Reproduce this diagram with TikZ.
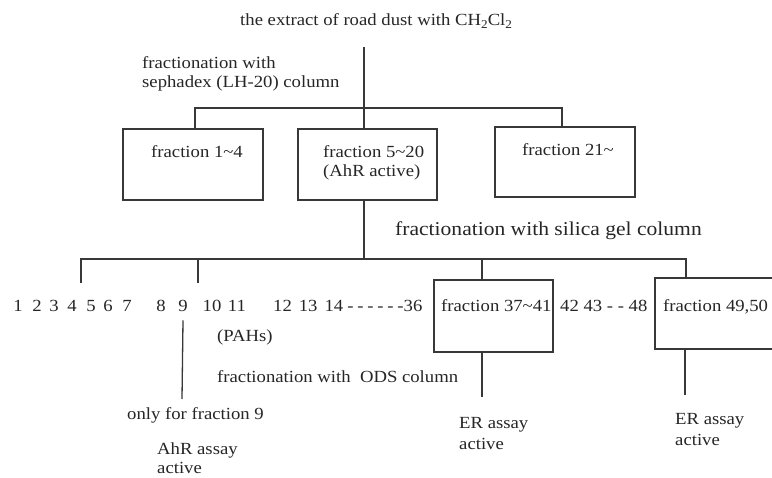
\documentclass[tikz,border=0pt]{standalone}
\usepackage{fontspec}
\setmainfont[FakeStretch=1.1]{Liberation Serif}
\begin{document}
\begin{tikzpicture}[x=1pt,y=-1pt,
  ink/.style={draw=black!78, line width=1.3pt},
  boxn/.style={draw=black!78, line width=1.3pt, rectangle, inner sep=0pt},
  txt/.style={anchor=base west, inner sep=0pt, text=black!85, font=\fontsize{17}{20}\selectfont},
  bigtxt/.style={txt, font=\fontsize{19.6}{24}\selectfont},
  num/.style={anchor=base, inner sep=0pt, text=black!85, font=\fontsize{17}{20}\selectfont}]
\useasboundingbox (0,0) rectangle (772,478);
\fill[white] (0,0) rectangle (772,478);

% title
\node[txt] (src) at (240,26) {the extract of road dust with CH\raisebox{-3pt}{\fontsize{12}{12}\selectfont 2}Cl\raisebox{-3pt}{\fontsize{12}{12}\selectfont 2}};
\node[txt] (sep1) at (142,69) {fractionation with};
\node[txt] (sep2) at (142,88) {sephadex (LH-20) column};

% first-level boxes
\node[boxn, minimum width=140pt, minimum height=71pt] (b1) at (193,164.5) {};
\node[boxn, minimum width=139pt, minimum height=71pt] (b2) at (367.5,164.5) {};
\node[boxn, minimum width=140pt, minimum height=70pt] (b3) at (565,162) {};
\node[txt] (t1) at (151,158) {fraction 1\textasciitilde 4};
\node[txt] (t2a) at (323,158) {fraction 5\textasciitilde 20};
\node[txt] (t2b) at (323,177) {(AhR active)};
\node[txt] (t3) at (522,156) {fraction 21\textasciitilde};

% silica gel
\node[bigtxt] (sil) at (395,236) {fractionation with silica gel column};

% second-level boxes
\node[boxn, minimum width=119pt, minimum height=72pt] (b4) at (493.5,316) {};
\node[boxn, minimum width=124pt, minimum height=71pt] (b5) at (717,313.5) {};
\node[txt] (t4) at (441,312) {fraction 37\textasciitilde 41};
\node[txt] (t5) at (663,312) {fraction 49,50};

% number row
\foreach \n/\x in {1/18,2/37,3/54,4/72,5/91,6/108,7/127,8/161,9/183,10/212,11/237}
  \node[num] (n\n) at (\x,312) {\n};
\node[txt] (n12) at (273,312) {12\hspace{7pt}13\hspace{7pt}14\hspace{4pt}-\hspace{3.8pt}-\hspace{3.8pt}-\hspace{3.8pt}-\hspace{3.8pt}-\hspace{3.8pt}-36};
\node[txt] (n42) at (560,312) {42 43 - - 48};

% ODS branch
\node[txt] (pah) at (217,342) {(PAHs)};
\node[txt] (ods) at (217,383) {fractionation with\ \ ODS column};
\node[txt] (only) at (127,420) {only for fraction 9};
\node[txt] (ahr1) at (157,455) {AhR assay};
\node[txt] (ahr2) at (157,474) {active};

% ER results
\node[txt] (er1a) at (459,429) {ER assay};
\node[txt] (er1b) at (459,450) {active};
\node[txt] (er2a) at (675,425) {ER assay};
\node[txt] (er2b) at (675,446) {active};

% junction coordinates
\coordinate (top) at (364,47);
\coordinate (h1L) at (195,108);
\coordinate (h1R) at (562,108);
\coordinate (h2L) at (81,259);
\coordinate (h2a) at (198,259);
\coordinate (h2b) at (482,259);
\coordinate (h2R) at (686,259);
\coordinate (d1) at (81,283);
\coordinate (d2) at (198,283);
\coordinate (e1) at (482,397);
\coordinate (e2) at (685,395);
\coordinate (f9) at (182,399);

% connectors
\draw[ink] (top) -- (top |- b2.north);
\draw[ink] (h1L |- b1.north) -- (h1L) -- (h1R) -- (h1R |- b3.north);
\draw[ink] (top |- b2.south) -- (top |- h2L);
\draw[ink] (d1) -- (h2L) -- (h2R) -- (h2R |- b5.north);
\draw[ink] (h2a) -- (d2);
\draw[ink] (h2b) -- (h2b |- b4.north);
\draw[ink] (e1 |- b4.south) -- (e1);
\draw[ink] (e2 |- b5.south) -- (e2);
\draw[ink] ([yshift=-8pt]n9.south) -- (f9);
\end{tikzpicture}
\end{document}
